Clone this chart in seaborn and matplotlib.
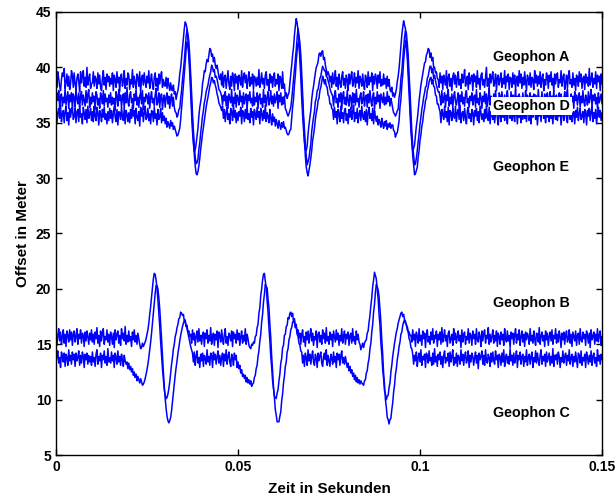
import numpy as np
import pandas as pd
import matplotlib
matplotlib.use("Agg")
import matplotlib.pyplot as plt
import seaborn as sns

# Abtastintervall der Geophone (s)
dt = 0.00025
# Ausschlaege sind in Dezimeter notiert
dm = 0.1

geophone = ["Geophon A", "Geophon D", "Geophon E", "Geophon B", "Geophon C"]
offset = [38.8, 37.1, 35.7, 15.6, 13.7]

# Ausschlag je Geophon in dm (601 Werte je Spur)
amp_a = [
    3, -6, 8, 2, -5, -9, 1, 7, 4, 11, -7, -2, 6, -5, 4, -8, -3, 9, 5, -6,
    7, -3, -8, 2, 6, -1, -10, 8, -2, 4, 9, -5, 3, -6, 12, -4, 2, 6, -7, -3,
    -2, 8, -5, 4, 1, -7, 7, -3, 5, -6, -9, 2, 9, -4, 3, -8, 6, -1, 4, -5,
    2, -3, 7, -9, 5, 1, -6, 8, -2, 3, -10, 4, 6, -5, -1, 9, -7, 2, -4, 7,
    5, -8, 1, -3, 10, -6, 4, -2, -7, 6, 3, -5, 8, -11, 2, 5, -4, 7, -1, -6,
    4, -2, 9, -7, 1, 6, -4, -8, 3, 7, -5, 2, -9, 6, -3, 4, 8, -6, 1, -4,
    -5, 3, -7, 2, -4, -9, -2, -8, -9, -4, -12, -10, -17, -12, -9, -3, 6, 12, 21, 31,
    38, 47, 53, 51, 47, 36, 21, 6, -13, -30, -46, -57, -64, -62, -57, -50, -43, -32, -24, -19,
    -13, -3, 2, 9, 8, 15, 19, 17, 23, 29, 28, 22, 24, 17, 21, 14, 11, 14, 9, 3,
    1, 6, -4, 8, -6, 3, 5, -7, 1, 9, -3, -8, 4, -5, 7, 2, -9, 6, -2, 4,
    -8, 5, 2, -4, 9, -6, 3, 7, -2, 5, -7, 1, 8, -5, 3, -3, 6, -8, 4, 2,
    -5, 3, -4, 10, -6, -1, 7, -3, 2, -7, 5, 8, -4, 1, -9, 6, -2, 4, -6, 3,
    7, -5, 1, -3, 6, -9, 4, 2, -7, 8, -7, -3, -14, -11, -16, -13, -11, -2, 6, 14,
    23, 30, 41, 49, 56, 52, 45, 33, 19, 3, -16, -31, -44, -55, -62, -63, -59, -48, -40, -33,
    -27, -17, -10, -5, 1, 7, 12, 14, 17, 24, 25, 22, 26, 27, 19, 21, 14, 10, 5, 8,
    5, -1, 4, -6, 7, -3, 1, 9, -5, 3, -8, 6, -2, -6, 4, 8, -4, 2, -7, 5,
    1, -9, 6, -3, 4, 8, -5, -1, 7, -6, 3, -2, 9, -7, 4, 1, -5, 6, -3, -8,
    5, 2, -6, 8, -4, 3, -1, 7, -9, 4, -3, 6, 2, -7, 5, -2, 8, -5, 1, -4,
    6, -3, 2, -7, 4, -5, 1, -8, -10, -6, -14, -11, -15, -12, -8, -1, 4, 11, 21, 32,
    41, 48, 54, 50, 47, 34, 21, 4, -15, -31, -45, -56, -64, -61, -58, -49, -41, -35, -27, -18,
    -11, -4, 1, 6, 11, 16, 17, 23, 25, 29, 28, 21, 25, 18, 21, 12, 12, 7, 8, 2,
    1, -6, 7, -2, 4, -8, 5, 1, -4, 9, -7, 3, 6, -5, 2, -9, 4, 7, -3, 5,
    -6, 2, 8, -4, 1, -7, 6, -2, 3, 10, -5, -1, 4, -8, 7, -3, 2, 5, -9, 6,
    -1, 4, -6, 9, -3, 2, -8, 5, 7, -4, 1, -6, 3, 12, -5, 2, -7, 6, -2, 4,
    8, -5, -2, 6, -9, 3, 5, -4, 1, 7, -6, 2, -3, 9, -7, 4, -1, 6, -8, 3,
    2, -6, 7, -3, 5, -8, 1, 4, -5, 9, -2, 6, -7, 3, -4, 8, -1, -9, 5, 2,
    -4, 7, -6, 3, 1, -8, 9, -2, 5, -5, 4, -3, 8, -6, 2, 6, -9, 1, -4, 7,
    3, -7, 5, -1, 8, -4, 2, -10, 6, -3, 4, 7, -6, 1, -2, 9, -5, 3, 6, -8,
    -2, 5, -7, 4, 9, -3, 1, -6, 7, -4, 2, -9, 5, 3, -5, 8, -1, 6, -7, 2,
    4, -8, 6, -2, 3, -5, 11, -4, 1, 7, -6, 2, -3, 8, -7, 5, -1, 4, -9, 6,
    -3,
]
amp_d = [
    -4, 6, -1, 8, -7, 3, 5, -6, 2, -3, 10, -5, 1, 7, -8, 4, -2, 6, -9, 5,
    2, -7, 8, 1, -4, 6, -8, 3, 7, -5, 4, -1, -6, 8, -3, 5, 9, -7, 2, -4,
    6, -2, 3, -9, 7, 4, -5, 1, -8, 6, 3, -4, 8, -6, 5, -2, 1, -7, 4, -3,
    6, -5, 2, -4, 1, -10, 7, 3, -6, 9, -1, 4, -7, 2, 5, -8, 6, -3, 11, -2,
    -6, 4, 7, -3, 1, -8, 5, -1, 9, -5, 2, -7, 3, 6, -4, 8, -9, 2, -2, 5,
    3, -4, 6, -8, 2, 7, -3, 1, -6, 4, 10, -5, -2, 6, -7, 3, 5, -9, 1, 4,
    -7, 2, 6, -4, 3, -8, 1, 5, -6, 2, -7, -11, -12, -16, -14, -9, -8, 1, 8, 18,
    26, 35, 46, 57, 63, 59, 52, 39, 23, 6, -13, -28, -41, -52, -58, -57, -54, -45, -39, -30,
    -23, -15, -10, -3, 1, 7, 10, 13, 18, 22, 25, 31, 29, 25, 27, 20, 21, 18, 14, 9,
    8, 6, 3, -5, 4, -1, 7, -6, 3, -8, 5, 1, -3, 9, -6, 2, -4, 6, -7, 4,
    1, -5, 8, -2, 3, -7, 6, -4, 2, 5, -9, 4, -1, 7, -3, 1, -6, 8, -5, 2,
    -2, 6, -8, 3, 5, -4, 1, -7, 9, -3, 4, -6, 2, 7, -5, -1, 8, -4, 3, -6,
    5, -3, 1, 7, -8, 4, -2, 6, -5, 2, -4, 3, -8, -10, -13, -15, -13, -10, -7, 0,
    9, 17, 27, 36, 45, 56, 64, 58, 51, 40, 24, 5, -14, -27, -40, -51, -59, -56, -53, -46,
    -40, -29, -22, -16, -11, -2, 1, 8, 9, 14, 19, 21, 26, 30, 28, 26, 26, 21, 20, 17,
    14, 10, 7, 5, 3, -6, 4, 8, -3, 1, -7, 5, -2, 6, -9, 3, 7, -4, 2, -5,
    8, -1, -6, 4, 2, -8, 6, -3, 5, -5, 9, -2, 1, -7, 3, 6, -4, -1, 7, -6,
    2, 4, -7, 5, -3, 8, -1, -6, 3, 6, -9, 2, -4, 7, -2, 4, -8, 5, 1, -3,
    6, -5, 2, -4, 7, -2, 3, -6, 1, -3, -8, -12, -13, -15, -13, -10, -9, 2, 7, 19,
    25, 36, 47, 56, 62, 60, 51, 40, 22, 7, -12, -29, -42, -51, -59, -58, -53, -46, -38, -31,
    -22, -16, -9, -4, 2, 6, 11, 12, 19, 21, 26, 30, 30, 24, 28, 19, 22, 17, 13, 10,
    7, 7, 2, -5, 8, -3, 1, 6, -7, 4, -1, 9, -6, 2, -4, 5, -8, 3, 7, -2,
    -5, 1, 6, -9, 4, -2, 7, -4, 2, -6, 5, 8, -3, 1, -7, 3, -1, 6, -5, 2,
    4, -7, 9, -3, 1, -5, 6, 2, -8, 3, -2, 7, -4, 5, -6, 1, 10, -5, 3, -1,
    -6, 5, -3, 8, -2, 1, -9, 6, 3, -4, 7, -1, -5, 4, -7, 2, 8, -3, 1, -6,
    7, -2, 4, -6, 1, 9, -4, 3, -8, 5, -1, 2, -5, 6, -3, -7, 8, -2, 4, -4,
    2, 6, -8, 3, -1, 5, -7, 4, 1, -5, 9, -3, 2, -6, 7, -2, -4, 5, -9, 3,
    6, -4, 1, 7, -6, 3, -2, 8, -5, 2, 4, -7, 1, 6, -3, 5, -8, 2, -1, 7,
    -5, 3, 9, -4, 1, -6, 5, -2, 3, -8, 7, -1, 4, -5, 2, 6, -7, 3, -3, 8,
    -2, -6, 4, 1, -5, 7, -3, 2, 9, -7, 4, -1, 5, -4, 2, -8, 6, -3, 1, 5,
    -4,
]
amp_e = [
    5, -8, 2, 6, -3, 9, -6, 1, 4, -7, 3, 8, -5, 2, -9, 6, -2, 4, 7, -4,
    -1, 6, -7, 3, 5, -6, 9, -2, 1, -8, 7, 2, -4, 5, -7, 8, -3, 1, 6, -5,
    3, -6, 8, -1, -5, 7, 2, -9, 4, 1, -6, 5, -2, 7, -4, 1, -8, 3, -5, 6,
    -3, 4, -7, 1, 8, -2, -6, 5, -9, 3, 2, -4, 7, -1, -5, 6, -8, 4, 1, -6,
    2, -7, 5, -3, 9, -1, 4, -8, 6, -2, -5, 3, -10, 7, -1, 5, -6, 2, 8, -4,
    -2, 6, -5, 1, -8, 4, 3, -6, 7, -3, 1, -9, 5, -4, -2, 6, -7, 2, -5, -1,
    -8, -3, -11, -6, -9, -12, -5, -10, -7, -13, -10, -13, -16, -19, -18, -15, -12, -4, 6, 15,
    26, 37, 48, 59, 66, 63, 56, 44, 28, 10, -8, -22, -36, -46, -53, -54, -51, -46, -39, -31,
    -24, -17, -11, -5, 1, 7, 12, 16, 21, 26, 29, 34, 33, 29, 31, 27, 24, 19, 16, 11,
    9, 7, 4, 8, -3, 5, -6, 2, 7, -4, 1, -8, 6, 3, -5, 9, -2, 4, -7, 2,
    -5, 3, -1, 7, -8, 4, 2, -6, 5, -3, 8, -4, 1, -7, 6, -2, 3, -9, 5, 1,
    -4, 7, -2, 3, -8, 6, 1, -5, 4, -3, 9, -6, 2, -1, -7, 5, -3, -9, 1, -6,
    -2, -10, -4, -8, -12, -5, -9, -13, -7, -11, -6, -12, -11, -14, -17, -18, -17, -14, -13, -3,
    7, 14, 27, 36, 49, 58, 65, 64, 57, 43, 27, 11, -7, -23, -37, -47, -52, -55, -50, -45,
    -39, -32, -23, -18, -12, -4, 2, 6, 13, 15, 22, 25, 30, 35, 32, 28, 32, 26, 25, 18,
    17, 10, 10, 6, 5, -4, 7, -2, 3, -8, 5, 1, -6, 8, -3, 2, -7, 4, 6, -5,
    1, -8, 5, -2, 7, -4, 3, 9, -6, 2, -3, 6, -7, 1, 4, -5, 8, -1, -4, 3,
    -6, 5, -9, 2, 7, -3, 1, -5, 6, -8, 4, -2, -6, -1, -9, -4, -7, -11, -3, -8,
    -12, -6, -10, -5, -13, -8, -11, -7, -12, -9, -9, -14, -15, -20, -17, -16, -11, -5, 7, 14,
    27, 36, 49, 58, 67, 62, 57, 43, 29, 9, -9, -21, -37, -45, -54, -53, -50, -47, -38, -32,
    -23, -18, -10, -6, 2, 6, 13, 15, 22, 25, 30, 33, 34, 28, 32, 26, 25, 18, 17, 10,
    10, 6, 3, -7, 5, 1, -4, 8, -2, 3, -6, 7, -9, 4, 2, -5, 6, -1, -3, 8,
    -6, 2, 5, -4, 9, -7, 1, 3, -5, 6, -2, -8, 4, 7, -3, 1, -6, 5, 2, -9,
    4, -1, 6, -5, 3, -7, 8, 2, -4, 1, -6, 5, -3, 9, -2, -5, 7, -8, 3, 1,
    -4, 6, -7, 2, 5, -3, -9, 4, 1, -6, 8, -2, 3, -5, 7, -1, -8, 4, 6, -3,
    2, -5, 8, -1, -6, 4, 3, -8, 6, -2, 1, -7, 5, -4, 9, -3, 2, -6, 4, 7,
    -5, 1, -8, 6, -2, 3, 7, -4, 5, -9, 2, -1, 6, -6, 4, 8, -3, 1, -7, 5,
    -2, 4, -6, 9, -3, 2, -8, 5, 1, -4, 7, -5, 3, -1, 6, -9, 2, 4, -5, 1,
    6, -3, -7, 5, 2, -4, 8, -6, 1, 3, -8, 4, -2, 7, -5, 1, 6, -4, -1, 3,
    -7, 5, 2, -9, 4, -1, 6, -5, 3, 8, -6, 2, -3, 5, -8, 1, 7, -2, 4, -5,
    2,
]
amp_b = [
    4, -7, 2, 8, -3, 5, -6, 1, 7, -5, 3, -8, 6, 2, -4, 7, -2, 5, -7, 3,
    6, -4, 1, 8, -6, 3, -1, 7, -5, 4, 2, -8, 5, -3, 6, 1, -6, 4, -2, 7,
    -4, 3, -6, 5, -1, 9, -5, 2, -8, 6, -3, 4, 8, -6, 1, -2, 7, -4, 3, -7,
    5, 1, -6, 4, -9, 7, -2, 3, 6, -5, 2, -7, 8, -1, 4, -3, 10, -6, 2, -4,
    6, -3, 1, -8, 5, -2, 7, -4, 2, -6, 4, -1, -6, -10, -9, -5, -8, -6, -4, -1,
    3, 7, 13, 21, 28, 37, 45, 53, 58, 57, 52, 44, 34, 22, 10, -4, -16, -28, -38, -47,
    -52, -55, -54, -51, -46, -40, -32, -24, -18, -10, -6, 1, 4, 9, 12, 17, 18, 23, 22, 20,
    21, 15, 16, 10, 11, 5, 6, 1, 3, -5, 7, -2, 4, -7, 1, 6, -4, 8, -3, 2,
    -6, 3, 5, -8, 4, -1, 7, -5, 2, -3, 9, -6, 1, 4, -7, 3, -2, 6, -9, 5,
    2, -4, 7, -1, -6, 3, 8, -5, 1, -7, 4, 2, -3, 6, -8, 5, -1, 3, -5, 7,
    -2, 4, -7, 1, 6, -5, 2, -3, 8, -6, 3, -1, -7, -9, -10, -6, -7, -4, -5, 1,
    2, 9, 12, 22, 27, 38, 44, 52, 57, 58, 51, 45, 33, 23, 9, -3, -17, -27, -39, -46,
    -53, -54, -55, -50, -47, -39, -33, -23, -19, -9, -7, 2, 3, 10, 11, 18, 17, 22, 23, 19,
    22, 14, 17, 9, 12, 4, 7, 0, 4, -6, 3, 7, -4, 1, -8, 5, -2, 6, -5, 2,
    8, -3, 4, -7, 1, -2, 6, -9, 3, 5, -4, 2, -6, 7, -1, 4, -5, 9, -3, 1,
    -6, 5, -2, 3, -8, 6, 1, -4, 7, -2, 4, -7, 2, -3, 8, -5, 1, 6, -6, 3,
    -1, 5, -7, 2, 4, -5, 8, -3, 1, -6, 6, -2, 3, -4, -6, -11, -8, -5, -9, -5,
    -3, -2, 4, 6, 14, 20, 29, 36, 46, 52, 59, 56, 53, 43, 35, 21, 11, -5, -15, -29,
    -37, -48, -51, -56, -53, -52, -45, -41, -31, -25, -17, -11, -5, 0, 5, 8, 13, 16, 19, 22,
    23, 19, 21, 16, 15, 11, 10, 6, 5, 2, 2, -4, 7, -2, 3, -8, 5, 1, -5, 8,
    -3, 2, -7, 6, -1, 4, -9, 3, 7, -4, 1, -6, 5, -2, 8, -5, 2, -1, 6, -8,
    3, -2, 5, -6, 9, -4, 1, 7, -3, 2, -8, 4, 6, -5, -1, 3, -7, 8, -2, 4,
    -5, 1, 6, -3, 2, -9, 7, -4, 3, 5, -6, 1, -2, 8, -5, 4, 2, -7, 6, -1,
    3, -6, 8, -2, -4, 5, 1, -8, 6, -3, 4, 7, -5, 2, -1, 9, -6, 3, -4, 1,
    7, -5, 2, -3, 6, -8, 4, 1, -6, 5, -2, 3, -7, 8, -1, -4, 6, -3, 2, -9,
    5, -1, 4, -6, 2, 8, -5, 3, -2, 7, -7, 1, 6, -4, 3, -8, 5, -2, 4, 1,
    -6, 8, -3, 2, -5, 6, -1, -7, 4, 3, -4, 9, -6, 1, 5, -3, 2, -8, 6, -2,
    4, -7, 1, 5, -3, 7, -6, 2, -1, 8, -5, 3, -4, 6, 1, -9, 4, -2, 5, -6,
    2, 6, -4, -1, 7, -5, 3, -8, 5, 1, -3, 6, -7, 2, 4, -6, 8, -2, -4, 5,
    -1, 3, -7, 6, 2, -5, 4, -9, 7, -2, 1, 5, -6, 3, -3, 8, -4, 2, 6, -7,
    1,
]
amp_c = [
    -5, 3, 7, -4, 1, -8, 6, 2, -3, 5, -7, 4, 1, -6, 8, -2, 3, -5, 6, -1,
    4, -7, 5, -2, 1, 7, -6, 3, -4, 6, 2, -8, 4, -1, 5, -5, 3, -3, 2, -6,
    6, -3, 1, -7, 4, 8, -5, 2, -2, 5, -8, 3, -1, 7, -4, 2, -6, 9, -3, 1,
    -4, 6, -2, 3, -8, 5, 1, -5, 7, -3, 2, -6, 4, -1, -7, 3, -2, -5, -3, -9,
    -4, -10, -7, -12, -9, -15, -12, -17, -14, -20, -16, -19, -22, -18, -21, -24, -23, -21, -18, -14,
    -10, -5, 1, 8, 15, 23, 32, 41, 50, 59, 66, 66, 63, 55, 45, 32, 18, 3, -12, -25,
    -36, -45, -52, -56, -58, -56, -53, -47, -39, -31, -23, -15, -8, -2, 5, 10, 16, 21, 25, 29,
    32, 34, 33, 30, 27, 23, 19, 15, 11, 8, 5, -3, 6, -6, 2, 7, -4, 1, -8, 4,
    -2, 5, -7, 3, 1, -5, 8, -3, 2, -6, 5, 3, -8, 6, -1, 4, -5, 2, 7, -4,
    3, -6, 1, 5, -7, 4, -2, 8, -5, 2, 6, -3, -7, 4, 1, -6, 5, -1, 3, -8,
    -3, -9, -6, -13, -10, -16, -14, -18, -15, -21, -17, -22, -19, -23, -20, -25, -23, -22, -17, -15,
    -9, -6, 2, 7, 16, 22, 33, 40, 51, 58, 67, 65, 64, 54, 46, 31, 19, 2, -11, -26,
    -35, -46, -51, -57, -57, -57, -52, -48, -38, -32, -22, -16, -7, -3, 6, 9, 17, 20, 26, 28,
    33, 33, 34, 29, 28, 22, 20, 14, 12, 7, 6, -4, 3, -7, 5, 1, -6, 8, -2, 4,
    -5, 2, 7, -3, -6, 4, 1, -8, 5, -2, 3, 6, -4, -7, 2, 5, -1, 8, -6, 3,
    -2, -7, 4, 1, -5, 6, -3, 2, -8, 5, -1, 4, -6, 3, 7, -4, 1, -5, 2, -3,
    -8, -4, -11, -7, -13, -10, -16, -13, -19, -15, -21, -17, -22, -19, -23, -20, -22, -23, -24, -20,
    -19, -13, -11, -4, 0, 9, 14, 24, 31, 42, 49, 60, 67, 65, 62, 56, 44, 33, 17, 4,
    -13, -24, -37, -44, -53, -55, -59, -55, -54, -46, -40, -30, -24, -14, -9, -1, 4, 11, 15, 22,
    24, 30, 33, 35, 32, 31, 26, 24, 18, 16, 10, 9, 4, -5, 3, -2, 6, -7, 1, 5,
    -3, 8, -6, 2, -1, 4, -8, 5, 3, -4, 7, -2, 1, -6, 5, -5, 9, -3, 2, -7,
    4, -1, 6, -5, 2, -8, 3, 7, -4, 1, -2, 5, -7, 6, -3, 2, 8, -6, 1, -4,
    5, -7, 3, 1, -5, 8, -2, 4, -6, 2, 6, -4, -1, 7, -8, 3, -3, 5, 2, -6,
    1, 6, -4, 3, -9, 5, -1, 2, 7, -5, 3, -6, 8, -2, -4, 4, 1, -7, 5, -3,
    6, -2, -5, 7, -1, 3, -8, 4, 2, -6, 5, -3, 8, -7, 1, 4, -4, 2, -5, 9,
    -2, 3, -6, 5, -4, 1, 7, -8, 3, -1, 6, -5, 2, 4, -7, 2, -3, 8, -6, 1,
    4, -5, 2, 6, -8, 1, -3, 7, -4, 5, -1, -6, 3, 8, -5, 2, -2, 4, -7, 6,
    -3, 1, 5, -6, 2, -4, 9, -7, 3, -1, 4, -5, 6, 2, -8, 1, -3, 7, -4, 2,
    5, -6, 3, -2, 8, -5, 1, 4, -7, 2, -3, 6, -1, -8, 5, 3, -4, 7, -6, 1,
    -2, 4, -8, 6, 1, -5, 3, -3, 7, -6, 2, 5, -4, 1, -7, 8, -2, 3, -5, 4,
    -1,
]
amplituden = [amp_a, amp_d, amp_e, amp_b, amp_c]

# Lage der Spurbeschriftung
label_t = 0.12
label_y = [40.9, 36.5, 31.0, 18.7, 8.8]

x_ticks = [0, 0.05, 0.1, 0.15]
x_ticklabels = ["0", "0.05", "0.1", "0.15"]
y_ticks = [5, 10, 15, 20, 25, 30, 35, 40, 45]

# Daten in Long-Format bringen
frames = []
for name, off, amp in zip(geophone, offset, amplituden):
    amp = np.asarray(amp, dtype=float) * dm
    frames.append(pd.DataFrame({
        "zeit": np.arange(len(amp)) * dt,
        "offset": off + amp,
        "geophon": name,
    }))
df = pd.concat(frames, ignore_index=True)

sns.set_style("ticks")
plt.rcParams["font.family"] = ["Liberation Sans", "DejaVu Sans"]
plt.rcParams["font.weight"] = "bold"
plt.rcParams["text.color"] = "black"
plt.rcParams["axes.labelcolor"] = "black"

fig = plt.figure(figsize=(6.16, 4.95), dpi=100)
ax = fig.add_axes([0.0909, 0.0808, 0.8864, 0.895])

sns.lineplot(data=df, x="zeit", y="offset", units="geophon", estimator=None,
             color="blue", lw=1.1, legend=False, ax=ax)

ax.set_xlim(0, 0.15)
ax.set_ylim(5, 45)
ax.set_xticks(x_ticks)
ax.set_xticklabels(x_ticklabels)
ax.set_yticks(y_ticks)
ax.tick_params(direction="in", top=True, right=True, length=4, width=1,
               labelsize=10, colors="black")
for lab in ax.get_xticklabels() + ax.get_yticklabels():
    lab.set_fontweight("bold")
for sp in ax.spines.values():
    sp.set_visible(True)
    sp.set_color("black")
    sp.set_linewidth(1.0)

ax.set_xlabel("Zeit in Sekunden", fontsize=11, fontweight="bold", labelpad=6)
ax.set_ylabel("Offset in Meter", fontsize=11, fontweight="bold", labelpad=4)

for name, y in zip(geophone, label_y):
    kw = {}
    if name == "Geophon D":
        kw["bbox"] = dict(facecolor="white", edgecolor="none", pad=1.5)
    ax.text(label_t, y, name, fontsize=10.3, fontweight="bold", color="black",
            va="center", ha="left", **kw)

fig.savefig("out.png", dpi=100)
